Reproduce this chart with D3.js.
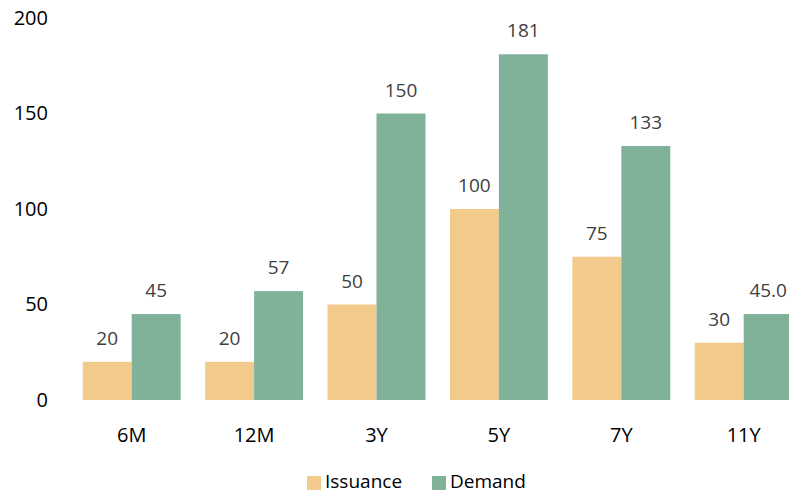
<!DOCTYPE html>
<html>
<head>
<meta charset="utf-8">
<script src="https://d3js.org/d3.v7.min.js"></script>
<style>
  html, body { margin: 0; padding: 0; background: #fff; }
  svg { display: block; font-family: "Open Sans", "Liberation Sans", sans-serif; }
</style>
</head>
<body>
<svg width="789" height="495"></svg>
<script>
// chart data
var categories = ["6M", "12M", "3Y", "5Y", "7Y", "11Y"];
var issuance = [20, 20, 50, 100, 75, 30];
var demand = [45, 57, 150, 181, 133, 45];
var demandLabels = ["45", "57", "150", "181", "133", "45.0"];
var issuanceLabels = ["20", "20", "50", "100", "75", "30"];
var seriesNames = ["Issuance", "Demand"];
var yTicks = [0, 50, 100, 150, 200];

var svg = d3.select("svg"),
    margin = {top: 18, left: 70.5, bottom: 95},
    height = +svg.attr("height") - margin.top - margin.bottom;

var colors = {"Issuance": "#F2CA8C", "Demand": "#80B29A"};

var x0 = d3.scaleBand()
    .domain(categories)
    .range([margin.left, margin.left + 6 * 122.4])
    .paddingInner(0.2)
    .paddingOuter(0.1);

var x1 = d3.scaleBand()
    .domain(seriesNames)
    .range([0, x0.bandwidth()]);

var y = d3.scaleLinear()
    .domain([0, 200])
    .range([margin.top + height, margin.top]);

var rows = categories.map(function(c, i) {
  return {cat: c, values: [
    {key: "Issuance", value: issuance[i], label: issuanceLabels[i]},
    {key: "Demand", value: demand[i], label: demandLabels[i]}
  ]};
});

var groups = svg.append("g")
  .selectAll("g")
  .data(rows)
  .enter().append("g")
    .attr("transform", function(d) { return "translate(" + x0(d.cat) + ",0)"; });

groups.selectAll("rect")
  .data(function(d) { return d.values; })
  .enter().append("rect")
    .attr("x", function(d) { return x1(d.key); })
    .attr("y", function(d) { return y(d.value); })
    .attr("width", x1.bandwidth())
    .attr("height", function(d) { return y(0) - y(d.value); })
    .attr("fill", function(d) { return colors[d.key]; });

groups.selectAll("text")
  .data(function(d) { return d.values; })
  .enter().append("text")
    .attr("x", function(d) { return x1(d.key) + x1.bandwidth() / 2; })
    .attr("y", function(d) { return y(d.value) - 17; })
    .attr("text-anchor", "middle")
    .attr("font-size", 19)
    .attr("fill", "#404040")
    .text(function(d) { return d.label; });

// y axis (labels only)
var yAxis = svg.append("g")
    .attr("transform", "translate(48,0)")
    .call(d3.axisLeft(y).tickValues(yTicks).tickSize(0).tickPadding(0));
yAxis.select(".domain").remove();
yAxis.selectAll("text")
    .attr("font-size", 20)
    .attr("fill", "#000")
    .attr("font-family", "Open Sans, Liberation Sans, sans-serif");

// x axis (labels only)
var xAxis = svg.append("g")
    .attr("transform", "translate(0," + (y(0) + 28) + ")")
    .call(d3.axisBottom(x0).tickSize(0).tickPadding(0));
xAxis.select(".domain").remove();
xAxis.selectAll("text")
    .attr("font-size", 20)
    .attr("fill", "#000")
    .attr("dy", "0.71em")
    .attr("font-family", "Open Sans, Liberation Sans, sans-serif");

// legend
var legendX = [307, 432];
var legend = svg.append("g")
  .selectAll("g")
  .data(seriesNames)
  .enter().append("g")
    .attr("transform", function(d, i) { return "translate(" + legendX[i] + ",474)"; });

legend.append("rect")
    .attr("y", 2)
    .attr("width", 14)
    .attr("height", 14)
    .attr("fill", function(d) { return colors[d]; });

legend.append("text")
    .attr("x", 18)
    .attr("y", 7)
    .attr("dy", "0.35em")
    .attr("font-size", 19)
    .attr("fill", "#000")
    .text(function(d) { return d; });
</script>
</body>
</html>
